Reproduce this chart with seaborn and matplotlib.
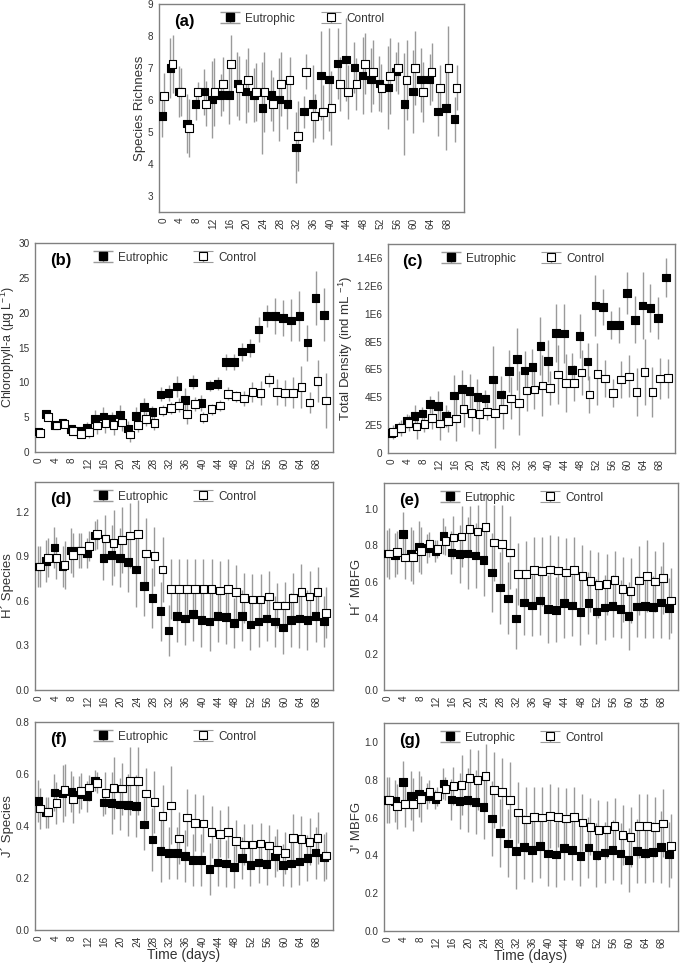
import numpy as np
import pandas as pd
import matplotlib
matplotlib.use("Agg")
import matplotlib.pyplot as plt
import seaborn as sns

# sampling days (every 2 days, 0..70)
days = list(range(0, 71, 2))
xtick_days = list(range(0, 69, 4))

# (a) species richness
a_eut = [5.5, 7.0, 6.27, 5.27, 5.88, 6.26, 6.02, 6.15, 6.15, 6.51, 6.27, 6.15, 5.75, 6.15, 6.02, 5.88, 4.51, 5.64,
         5.88, 6.77, 6.64, 7.14, 7.26, 7.01, 6.77, 6.64, 6.51, 6.39, 6.89, 5.88, 6.27, 6.64, 6.64, 5.64, 5.75, 5.4]
a_eut_sd = [0.65, 0.95, 0.8, 0.93, 0.5, 0.72, 1.2, 0.65, 0.9, 1.0, 1.0, 0.85, 1.45, 0.8, 1.3, 0.8, 1.1, 0.5,
            1.2, 1.4, 1.6, 1.1, 1.3, 0.8, 1.2, 1.0, 0.85, 1.3, 0.6, 1.6, 1.3, 1.0, 0.8, 0.75, 1.3, 0.7]
a_ctl = [6.13, 7.13, 6.25, 5.13, 6.25, 5.88, 6.25, 6.5, 7.13, 6.38, 6.63, 6.25, 6.25, 5.88, 6.5, 6.63, 4.88, 6.88,
         5.5, 5.63, 5.75, 6.5, 6.25, 6.5, 7.13, 6.88, 6.38, 6.75, 7.0, 6.63, 7.0, 6.25, 6.88, 6.38, 7.0, 6.38]
a_ctl_sd = [0.7, 0.9, 0.75, 0.9, 0.3, 0.7, 1.05, 0.85, 0.9, 1.0, 1.0, 0.9, 1.25, 0.85, 1.0, 0.7, 1.1, 0.55,
            0.7, 0.85, 1.15, 0.85, 0.85, 0.8, 0.95, 1.0, 0.75, 1.2, 0.8, 1.25, 1.15, 0.95, 0.9, 0.7, 1.3, 0.7]

# (b) chlorophyll-a
b_eut = [2.95, 5.46, 3.9, 4.15, 3.3, 3.05, 3.5, 4.7, 5.1, 4.8, 5.4, 3.4, 5.2, 6.5, 5.7, 8.26, 8.45, 9.4,
         7.44, 10.0, 7.05, 9.57, 9.8, 12.9, 12.9, 14.4, 14.9, 17.6, 19.5, 19.5, 19.2, 18.9, 19.5, 15.7, 22.1, 19.7]
b_eut_sd = [0.3, 0.6, 0.5, 0.5, 0.4, 0.4, 0.8, 1.3, 1.3, 1.0, 1.3, 1.0, 1.2, 1.2, 0.9, 1.0, 1.2, 1.5,
            1.7, 1.0, 1.2, 0.8, 0.9, 1.2, 1.1, 1.3, 1.3, 1.8, 1.6, 2.6, 2.6, 3.0, 3.6, 2.6, 3.9, 3.8]
b_ctl = [2.7, 5.0, 3.8, 4.0, 3.0, 2.6, 2.9, 3.8, 4.15, 3.9, 4.25, 2.5, 3.9, 4.7, 4.2, 5.94, 6.33, 6.7,
         5.46, 6.9, 4.98, 6.14, 6.7, 8.36, 8.0, 7.7, 8.6, 8.5, 10.4, 8.6, 8.5, 8.5, 9.3, 7.1, 10.2, 7.4]
b_ctl_sd = [0.3, 0.5, 0.5, 0.5, 0.4, 0.5, 0.9, 1.2, 1.4, 1.4, 1.3, 1.0, 1.1, 1.0, 1.0, 0.8, 0.9, 1.0,
            1.4, 1.0, 0.8, 0.8, 0.8, 0.9, 0.8, 1.1, 1.4, 1.7, 1.0, 1.9, 1.9, 2.2, 3.0, 1.5, 3.0, 3.9]

# (c) total density (x 1E5 ind/mL)
c_eut = [1.45, 1.8, 2.3, 2.67, 2.83, 3.5, 3.38, 2.67, 4.13, 4.58, 4.44, 4.04, 3.9, 5.27, 4.2, 5.9, 6.75, 5.93,
         6.16, 7.67, 6.61, 8.62, 8.57, 5.97, 8.4, 6.56, 10.58, 10.46, 9.2, 9.2, 11.48, 9.56, 10.6, 10.4, 9.68, 12.6]
c_eut_sd = [0.3, 0.4, 0.5, 0.8, 0.5, 0.6, 1.1, 0.8, 1.5, 1.4, 1.2, 1.3, 0.6, 2.4, 1.3, 1.5, 2.2, 1.4,
            1.3, 2.1, 1.5, 2.1, 2.1, 1.2, 1.6, 1.3, 2.2, 1.3, 1.0, 1.3, 1.5, 1.7, 2.4, 1.7, 1.5, 1.4]
c_ctl = [1.5, 1.8, 2.15, 1.9, 2.08, 2.5, 2.13, 2.3, 2.48, 3.14, 2.86, 2.79, 2.98, 2.86, 3.14, 3.92, 3.57, 4.49,
         4.56, 4.84, 4.68, 5.62, 5.03, 5.03, 5.79, 4.2, 5.67, 5.34, 4.32, 5.27, 5.5, 4.37, 5.81, 4.37, 5.34, 5.38]
c_ctl_sd = [0.5, 0.6, 0.6, 0.9, 0.6, 0.8, 1.2, 0.8, 1.6, 1.3, 1.3, 1.4, 0.6, 2.5, 1.4, 1.5, 2.3, 1.5,
            1.4, 2.2, 1.2, 2.1, 2.1, 1.3, 1.6, 1.3, 2.2, 1.3, 1.0, 1.3, 1.5, 1.7, 2.4, 1.8, 1.5, 1.4]

# (d) H' species
d_eut = [0.83, 0.87, 0.96, 0.83, 0.94, 0.94, 0.92, 1.04, 0.89, 0.91, 0.89, 0.86, 0.81, 0.70, 0.62, 0.53, 0.40, 0.50,
         0.48, 0.51, 0.47, 0.46, 0.50, 0.49, 0.45, 0.50, 0.44, 0.46, 0.48, 0.46, 0.42, 0.47, 0.48, 0.47, 0.50, 0.46]
d_eut_sd = [0.14, 0.14, 0.14, 0.14, 0.15, 0.12, 0.1, 0.1, 0.15, 0.2, 0.2, 0.2, 0.25, 0.2, 0.2, 0.2, 0.17, 0.18,
            0.18, 0.18, 0.18, 0.2, 0.18, 0.18, 0.17, 0.17, 0.17, 0.17, 0.15, 0.17, 0.18, 0.18, 0.2, 0.2, 0.18, 0.17]
d_ctl = [0.83, 0.89, 0.89, 0.84, 0.91, 0.94, 0.97, 1.05, 1.02, 0.99, 1.01, 1.04, 1.05, 0.92, 0.90, 0.81, 0.68, 0.68,
         0.68, 0.68, 0.68, 0.68, 0.67, 0.68, 0.66, 0.62, 0.61, 0.61, 0.63, 0.57, 0.57, 0.62, 0.66, 0.63, 0.66, 0.52]
d_ctl_sd = [0.14, 0.13, 0.14, 0.16, 0.15, 0.12, 0.1, 0.1, 0.16, 0.22, 0.22, 0.22, 0.23, 0.24, 0.2, 0.22, 0.2, 0.2,
            0.2, 0.2, 0.2, 0.2, 0.2, 0.2, 0.18, 0.17, 0.17, 0.17, 0.17, 0.15, 0.16, 0.17, 0.19, 0.17, 0.17, 0.17]

# (e) H' MBFG
e_eut = [0.756, 0.747, 0.862, 0.751, 0.793, 0.784, 0.769, 0.852, 0.760, 0.751, 0.756, 0.745, 0.72, 0.651, 0.566,
         0.507, 0.395, 0.485, 0.467, 0.494, 0.448, 0.443, 0.48, 0.467, 0.43, 0.48, 0.434, 0.456, 0.465, 0.448,
         0.41, 0.461, 0.465, 0.458, 0.485, 0.452]
e_eut_sd = [0.13, 0.12, 0.12, 0.15, 0.14, 0.08, 0.06, 0.1, 0.12, 0.16, 0.2, 0.18, 0.2, 0.22, 0.2, 0.2, 0.17, 0.18,
            0.17, 0.19, 0.19, 0.18, 0.19, 0.17, 0.18, 0.17, 0.18, 0.18, 0.17, 0.16, 0.19, 0.17, 0.18, 0.17, 0.2, 0.17]
e_ctl = [0.756, 0.762, 0.732, 0.734, 0.769, 0.806, 0.780, 0.825, 0.843, 0.849, 0.889, 0.876, 0.90, 0.815, 0.806,
         0.760, 0.642, 0.642, 0.664, 0.657, 0.666, 0.66, 0.649, 0.664, 0.631, 0.603, 0.581, 0.585, 0.609, 0.557,
         0.548, 0.605, 0.631, 0.60, 0.618, 0.494]
e_ctl_sd = [0.14, 0.12, 0.12, 0.15, 0.13, 0.07, 0.05, 0.08, 0.12, 0.17, 0.13, 0.15, 0.19, 0.21, 0.22, 0.2, 0.17, 0.18,
            0.18, 0.19, 0.19, 0.19, 0.19, 0.18, 0.17, 0.17, 0.18, 0.17, 0.16, 0.18, 0.18, 0.19, 0.2, 0.17, 0.2, 0.18]

# (f) J' species
f_eut = [0.497, 0.453, 0.529, 0.525, 0.533, 0.521, 0.515, 0.574, 0.49, 0.488, 0.483, 0.481, 0.476, 0.406, 0.348,
         0.305, 0.297, 0.297, 0.284, 0.269, 0.269, 0.234, 0.26, 0.256, 0.243, 0.278, 0.25, 0.26, 0.255, 0.283,
         0.251, 0.256, 0.264, 0.277, 0.298, 0.279]
f_eut_sd = [0.08, 0.06, 0.07, 0.11, 0.08, 0.07, 0.06, 0.04, 0.05, 0.12, 0.1, 0.12, 0.12, 0.1, 0.12, 0.12, 0.1, 0.1,
            0.1, 0.1, 0.1, 0.1, 0.09, 0.09, 0.08, 0.08, 0.08, 0.08, 0.08, 0.08, 0.08, 0.09, 0.09, 0.09, 0.1, 0.09]
f_ctl = [0.467, 0.453, 0.489, 0.538, 0.502, 0.535, 0.548, 0.566, 0.528, 0.547, 0.544, 0.574, 0.572, 0.525, 0.493,
         0.438, 0.479, 0.352, 0.433, 0.412, 0.41, 0.376, 0.37, 0.378, 0.342, 0.329, 0.329, 0.333, 0.325, 0.307,
         0.297, 0.355, 0.35, 0.339, 0.355, 0.286]
f_ctl_sd = [0.08, 0.06, 0.08, 0.1, 0.09, 0.07, 0.05, 0.04, 0.08, 0.12, 0.1, 0.13, 0.13, 0.1, 0.12, 0.12, 0.15, 0.1,
            0.11, 0.11, 0.11, 0.1, 0.09, 0.1, 0.08, 0.08, 0.08, 0.08, 0.08, 0.08, 0.08, 0.09, 0.09, 0.09, 0.1, 0.09]

# (g) J' MBFG
g_eut = [0.692, 0.687, 0.787, 0.717, 0.724, 0.715, 0.697, 0.78, 0.695, 0.688, 0.692, 0.681, 0.657, 0.595, 0.519,
         0.463, 0.423, 0.445, 0.428, 0.451, 0.41, 0.405, 0.44, 0.428, 0.398, 0.442, 0.401, 0.415, 0.428, 0.41,
         0.375, 0.424, 0.414, 0.419, 0.445, 0.405]
g_eut_sd = [0.12, 0.11, 0.11, 0.13, 0.12, 0.07, 0.05, 0.08, 0.11, 0.15, 0.17, 0.17, 0.17, 0.2, 0.18, 0.18, 0.2, 0.17,
            0.17, 0.17, 0.17, 0.17, 0.17, 0.16, 0.16, 0.16, 0.17, 0.16, 0.16, 0.16, 0.17, 0.17, 0.16, 0.16, 0.19, 0.17]
g_ctl = [0.692, 0.66, 0.671, 0.671, 0.699, 0.736, 0.713, 0.752, 0.768, 0.773, 0.81, 0.798, 0.819, 0.745, 0.736,
         0.692, 0.627, 0.59, 0.604, 0.60, 0.607, 0.604, 0.595, 0.604, 0.574, 0.551, 0.533, 0.537, 0.555, 0.507,
         0.498, 0.555, 0.556, 0.551, 0.569, 0.449]
g_ctl_sd = [0.12, 0.12, 0.12, 0.14, 0.12, 0.06, 0.05, 0.06, 0.1, 0.16, 0.15, 0.16, 0.17, 0.2, 0.18, 0.2, 0.16, 0.17,
            0.16, 0.16, 0.17, 0.16, 0.16, 0.16, 0.15, 0.15, 0.16, 0.15, 0.15, 0.16, 0.16, 0.17, 0.17, 0.16, 0.18, 0.17]

c_ticks = [0, 2, 4, 6, 8, 10, 12, 14]
c_ticklabels = ["0", "2E5", "4E5", "6E5", "8E5", "1E6", "1.2E6", "1.4E6"]

sns.set_style("white")
plt.rcParams["font.family"] = ["Liberation Sans", "DejaVu Sans"]
plt.rcParams["mathtext.fontset"] = "custom"
plt.rcParams["mathtext.rm"] = "Liberation Sans"
plt.rcParams["mathtext.it"] = "Liberation Sans:italic"

GREY = "#9a9a9a"
TXT = "#333333"
W, H = 685, 963

fig = plt.figure(figsize=(6.85, 9.63), dpi=100)


def add_axes(left, top, right, bottom):
    return fig.add_axes([left / W, 1 - bottom / H, (right - left) / W, (bottom - top) / H])


def draw(ax, eut, eut_sd, ctl, ctl_sd, ylim, yticks, yticklabels, ylabel, tag, xlabel=False, ylabel_size=9.5):
    df = pd.DataFrame({
        "day": days * 2,
        "val": eut + ctl,
        "sd": eut_sd + ctl_sd,
        "group": ["Eutrophic"] * len(days) + ["Control"] * len(days),
    })
    df["xpos"] = df["day"] + np.where(df["group"] == "Eutrophic", -0.25, 0.25)

    for grp in ["Eutrophic", "Control"]:
        sub = df[df["group"] == grp]
        ax.errorbar(sub["xpos"], sub["val"], yerr=sub["sd"], fmt="none",
                    ecolor=GREY, elinewidth=1.0, zorder=1)

    sns.scatterplot(data=df, x="xpos", y="val", hue="group",
                    palette={"Eutrophic": "black", "Control": "white"},
                    marker="s", s=30, edgecolor="black", linewidth=0.8,
                    legend=False, ax=ax, zorder=3)

    # legend handles (marker + error bar)
    h1 = ax.errorbar([np.nan], [np.nan], yerr=[np.nan], fmt="s", ms=5.2, mfc="black", mec="black",
                     ecolor=GREY, elinewidth=1.0, capsize=7, capthick=1.0)
    h2 = ax.errorbar([np.nan], [np.nan], yerr=[np.nan], fmt="s", ms=5.2, mfc="white", mec="black",
                     mew=0.8, ecolor=GREY, elinewidth=1.0, capsize=7, capthick=1.0)
    ax.legend([h1, h2], ["Eutrophic", "Control"], loc="upper center", bbox_to_anchor=(0.47, 1.01),
              ncol=2, frameon=False, fontsize=8.5, handlelength=1.6, columnspacing=2.2,
              handletextpad=0.5, labelcolor=TXT)

    ax.set_xlim(-1, 72)
    ax.set_ylim(*ylim)
    ax.set_xticks(xtick_days)
    ax.set_xticklabels([str(d) for d in xtick_days], rotation=90)
    ax.set_yticks(yticks)
    ax.set_yticklabels(yticklabels)
    ax.tick_params(axis="both", labelsize=7.2, colors=TXT, length=2.5, width=0.8, pad=1.5, direction="out")
    ax.tick_params(axis="both", color="#808080")
    ax.set_ylabel(ylabel, fontsize=ylabel_size, color=TXT, labelpad=1)
    if xlabel:
        ax.set_xlabel("Time (days)", fontsize=10, color=TXT, labelpad=1)
    else:
        ax.set_xlabel("")
    for sp in ax.spines.values():
        sp.set_color("#808080")
        sp.set_linewidth(1.0)
    ax.text(0.05, 0.95, tag, transform=ax.transAxes, fontsize=12, fontweight="bold",
            va="top", ha="left", color="black")


ax_a = add_axes(159, 4, 464, 212)
draw(ax_a, a_eut, a_eut_sd, a_ctl, a_ctl_sd, (2.5, 9), range(3, 10), [str(v) for v in range(3, 10)],
     "Species Richness", "(a)")

ax_b = add_axes(35, 243, 333, 452)
draw(ax_b, b_eut, b_eut_sd, b_ctl, b_ctl_sd, (0, 30), range(0, 31, 5), [str(v) for v in range(0, 31, 5)],
     "Chlorophyll-a (µg L$^{-1}$)", "(b)", ylabel_size=9)

ax_c = add_axes(388, 244, 675, 453)
draw(ax_c, c_eut, c_eut_sd, c_ctl, c_ctl_sd, (0, 15), c_ticks, c_ticklabels,
     "Total Density (ind mL $^{-1}$)", "(c)")

ax_d = add_axes(35, 482, 333, 690)
d_t = [0, 0.3, 0.6, 0.9, 1.2]
draw(ax_d, d_eut, d_eut_sd, d_ctl, d_ctl_sd, (0, 1.4), d_t, [f"{v:.1f}" for v in d_t],
     "H´ Species", "(d)")

ax_e = add_axes(384, 483, 678, 690)
e_t = [0, 0.2, 0.4, 0.6, 0.8, 1.0]
draw(ax_e, e_eut, e_eut_sd, e_ctl, e_ctl_sd, (0, 1.145), e_t, [f"{v:.1f}" for v in e_t],
     "H´ MBFG", "(e)")

ax_f = add_axes(35, 722, 333, 930)
f_t = [0, 0.2, 0.4, 0.6, 0.8]
draw(ax_f, f_eut, f_eut_sd, f_ctl, f_ctl_sd, (0, 0.8), f_t, [f"{v:.1f}" for v in f_t],
     "J´ Species", "(f)", xlabel=True)

ax_g = add_axes(384, 723, 678, 931)
g_t = [0, 0.2, 0.4, 0.6, 0.8, 1.0]
draw(ax_g, g_eut, g_eut_sd, g_ctl, g_ctl_sd, (0, 1.1), g_t, [f"{v:.1f}" for v in g_t],
     "J' MBFG", "(g)", xlabel=True)

fig.savefig("out.png", dpi=100)
